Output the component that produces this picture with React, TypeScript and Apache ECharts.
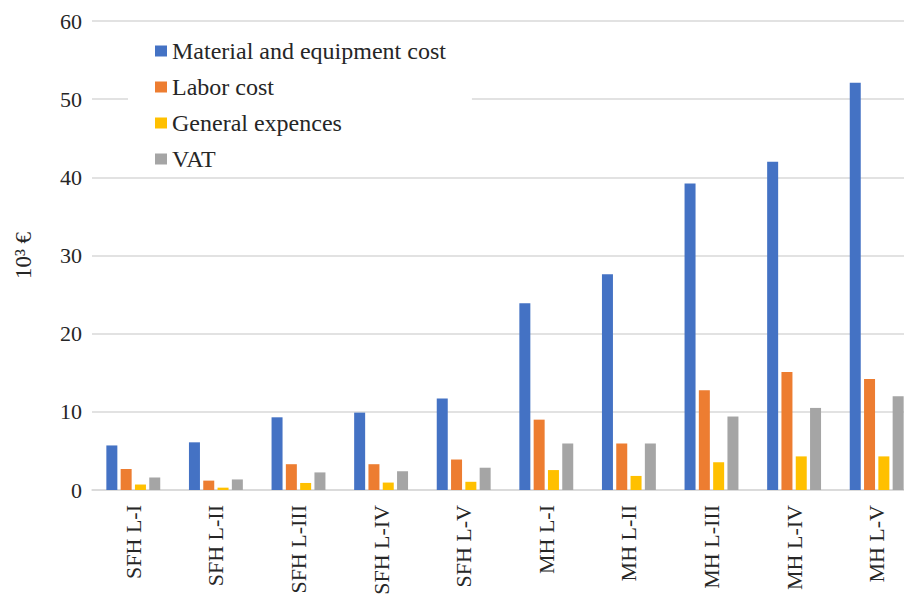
import React, { useEffect, useRef } from "react";
import * as echarts from "echarts";

const categories = ["SFH L-I", "SFH L-II", "SFH L-III", "SFH L-IV", "SFH L-V", "MH L-I", "MH L-II", "MH L-III", "MH L-IV", "MH L-V"];
const material = [5.7, 6.1, 9.3, 9.9, 11.7, 23.9, 27.6, 39.2, 42.0, 52.1];
const labor = [2.7, 1.2, 3.3, 3.3, 3.9, 9.0, 5.95, 12.75, 15.1, 14.2];
const general = [0.7, 0.3, 0.9, 0.95, 1.05, 2.55, 1.8, 3.55, 4.3, 4.3];
const vat = [1.6, 1.35, 2.25, 2.4, 2.85, 5.95, 5.95, 9.4, 10.5, 12.0];
const seriesNames = ["Material and equipment cost", "Labor cost", "General expences", "VAT"];
const colors = ["#4472C4", "#ED7D31", "#FFC000", "#A5A5A5"];
const yTicks = { min: 0, max: 60, interval: 10 };

const FONT = "Liberation Serif";

export default function App() {
  const ref = useRef<HTMLDivElement>(null);
  useEffect(() => {
    if (!ref.current) return;
    const chart = echarts.init(ref.current, null, { renderer: "svg" });
    const data = [material, labor, general, vat];
    chart.setOption({
      animation: false,
      backgroundColor: "#fff",
      textStyle: { fontFamily: FONT },
      grid: { left: 92, top: 21, bottom: 110, right: -14, containLabel: false, outerBoundsMode: "none" },
      legend: {
        orient: "vertical",
        left: 128,
        top: 35,
        padding: [4, 26, 2, 27],
        backgroundColor: "#fff",
        itemWidth: 12,
        itemHeight: 11,
        itemGap: 12,
        icon: "rect",
        textStyle: { fontFamily: FONT, fontSize: 24, color: "#262626", lineHeight: 24 },
        data: seriesNames,
      },
      xAxis: {
        type: "category",
        data: categories,
        axisLine: { show: true, lineStyle: { color: "#d9d9d9", width: 1.5 } },
        axisTick: { show: false },
        axisLabel: { rotate: 90, margin: 15, fontFamily: FONT, fontSize: 22, color: "#262626", interval: 0 },
      },
      yAxis: {
        type: "value",
        min: yTicks.min,
        max: yTicks.max,
        interval: yTicks.interval,
        name: "10³ €",
        nameLocation: "middle",
        nameGap: 57,
        nameRotate: 90,
        nameTextStyle: { fontFamily: FONT, fontSize: 23, color: "#262626" },
        axisLine: { show: false },
        axisTick: { show: false },
        axisLabel: { margin: 10, fontFamily: FONT, fontSize: 22, color: "#262626" },
        splitLine: { lineStyle: { color: "#d9d9d9", width: 1.5 } },
      },
      series: seriesNames.map((name, i) => ({
        name,
        type: "bar",
        data: data[i],
        barWidth: 11,
        barGap: "30%",
        itemStyle: { color: colors[i] },
      })),
    });
    return () => chart.dispose();
  }, []);
  return <div ref={ref} style={{ width: 904, height: 600, position: "absolute", left: 0, top: 0 }} />;
}
